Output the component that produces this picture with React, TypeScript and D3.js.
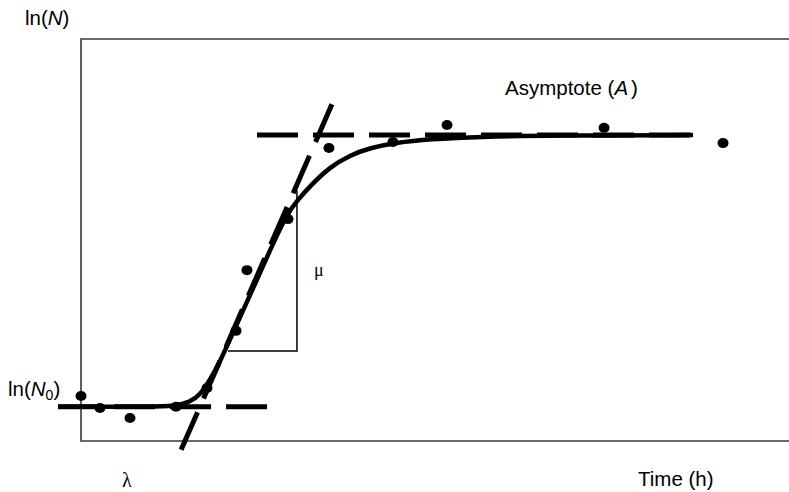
import { useEffect, useRef } from 'react';
import * as d3 from 'd3';

const W = 789, H = 492;

// observed counts, ln(N) vs time (h)
const obsTime = [0, 1.34, 3.46, 6.71, 8.9, 10.95, 11.72, 14.62, 17.51, 22.03, 25.85, 36.94, 45.34];
const obsLnN = [1.12, 0.82, 0.57, 0.85, 1.32, 2.74, 4.25, 5.52, 7.29, 7.44, 7.86, 7.79, 7.41];

// fitted growth curve
const fitTime = [-1.62, 1.34, 4.87, 6.64, 7.7, 8.4, 9.11, 9.82, 10.73, 11.94, 13.35, 14.55, 15.25, 16.17, 17.58, 19.0, 20.41, 22.18, 24.65, 28.18, 33.12, 43.22];
const fitLnN = [0.85, 0.85, 0.85, 0.87, 0.97, 1.14, 1.52, 1.97, 2.69, 3.63, 4.75, 5.65, 5.97, 6.34, 6.82, 7.11, 7.29, 7.42, 7.51, 7.57, 7.6, 7.61];

// guide lines: lag baseline, asymptote, max-rate tangent
const lagLine = [[-1.62, 0.85], [13.21, 0.85]];
const asymLine = [[12.43, 7.61], [43.22, 7.61]];
const tangentLine = [[7.07, -0.22], [17.85, 8.48]];
const muTriangle = [[10.38, 2.24], [15.25, 2.24], [15.25, 6.24]];

export default function App() {
  const ref = useRef<SVGSVGElement>(null);

  useEffect(() => {
    const svg = d3.select(ref.current);
    svg.selectAll('*').remove();

    const x = d3.scaleLinear().domain([0, 50]).range([81, 789]);
    const y = d3.scaleLinear().domain([0, 10]).range([441, 39]);
    const line = d3.line<number[]>().x((d) => x(d[0])).y((d) => y(d[1]));

    // frame (open on the right)
    svg.append('path')
      .attr('d', `M${W + 5},${y(10)}H${x(0)}V${y(0)}H${W + 5}`)
      .attr('fill', 'none')
      .attr('stroke', '#3a3a3a')
      .attr('stroke-width', 1.6);

    const dashed = [lagLine, asymLine, tangentLine];
    dashed.forEach((seg) => {
      svg.append('path')
        .attr('d', line(seg))
        .attr('fill', 'none')
        .attr('stroke', '#000')
        .attr('stroke-width', 5)
        .attr('stroke-dasharray', '41 15');
    });

    svg.append('path')
      .attr('d', line(muTriangle))
      .attr('fill', 'none')
      .attr('stroke', '#000')
      .attr('stroke-width', 1.5);

    const fit = fitTime.map((t, i) => [t, fitLnN[i]]);
    const smooth = d3.line<number[]>().x((d) => x(d[0])).y((d) => y(d[1])).curve(d3.curveBasis);
    svg.append('path')
      .attr('d', smooth(fit))
      .attr('fill', 'none')
      .attr('stroke', '#000')
      .attr('stroke-width', 4.5);

    svg.selectAll('.pt')
      .data(obsTime.map((t, i) => [t, obsLnN[i]]))
      .join('ellipse')
      .attr('class', 'pt')
      .attr('cx', (d) => x(d[0]))
      .attr('cy', (d) => y(d[1]))
      .attr('rx', 5.5)
      .attr('ry', 5)
      .attr('fill', '#000');

    const sans = 'Liberation Sans, Arial, sans-serif';
    const serif = 'Liberation Serif, Times New Roman, serif';
    const fs = 20.5;

    const lnN = svg.append('text').attr('x', 25).attr('y', 25)
      .attr('font-family', sans).attr('font-size', fs);
    lnN.append('tspan').text('ln(');
    lnN.append('tspan').attr('font-style', 'italic').text('N');
    lnN.append('tspan').text(')');

    const lnN0 = svg.append('text').attr('x', 8).attr('y', 396)
      .attr('font-family', sans).attr('font-size', fs);
    lnN0.append('tspan').text('ln(');
    lnN0.append('tspan').attr('font-style', 'italic').text('N');
    lnN0.append('tspan').attr('font-size', 14).attr('dy', 4).text('0');
    lnN0.append('tspan').attr('dy', -4).text(')');

    const asym = svg.append('text').attr('x', 505).attr('y', 95)
      .attr('font-family', sans).attr('font-size', fs);
    asym.append('tspan').text('Asymptote (');
    asym.append('tspan').attr('font-style', 'italic').text('A');
    asym.append('tspan').attr('dx', 3).text(')');

    svg.append('text').attr('x', 638).attr('y', 486)
      .attr('font-family', sans).attr('font-size', fs).text('Time (h)');

    svg.append('text').attr('x', 122).attr('y', 487)
      .attr('font-family', serif).attr('font-size', 20).text('λ');

    svg.append('text').attr('x', 314).attr('y', 276)
      .attr('font-family', serif).attr('font-size', 18).text('μ');
  }, []);

  return (
    <svg ref={ref} width={W} height={H}
      style={{ position: 'absolute', left: 0, top: 0, background: '#fff' }} />
  );
}
